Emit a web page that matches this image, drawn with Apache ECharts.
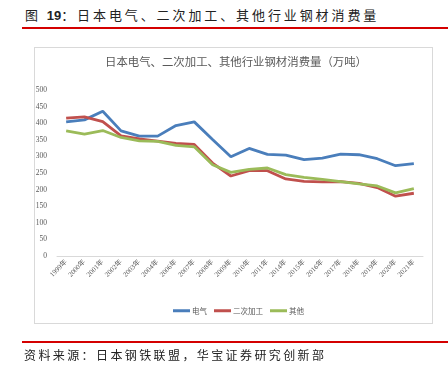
<!DOCTYPE html>
<html>
<head>
<meta charset="utf-8">
<script src="https://cdn.jsdelivr.net/npm/echarts@6/dist/echarts.min.js"></script>
<style>
  body { margin: 0; background: #fff; }
  #wrap { position: relative; width: 448px; height: 379px; overflow: hidden; font-family: "Noto Sans CJK SC", sans-serif; }
  #chart { position: absolute; left: 0; top: 0; width: 448px; height: 379px; }
  .head { position: absolute; left: 25px; top: 5px; font-size: 13px; letter-spacing: 2.9px; color: #222; white-space: nowrap; }
  .head b { font-family: "Liberation Sans", Arial, sans-serif; font-weight: bold; letter-spacing: 0; }
  .redline { position: absolute; left: 22px; width: 426px; height: 2px; background: #d40000; }
  .frame { position: absolute; left: 34px; top: 47px; width: 397px; height: 275px; border: 1px solid #d9d9d9; }
  .src { position: absolute; left: 24px; top: 346px; font-size: 12px; letter-spacing: 2.4px; color: #222; white-space: nowrap; }
</style>
</head>
<body>
<div id="wrap">
  <div class="head">图 <b>19</b>：日本电气、二次加工、其他行业钢材消费量</div>
  <div class="redline" style="top:27px"></div>
  <div class="frame"></div>
  <div id="chart"></div>
  <div class="redline" style="top:341px"></div>
  <div class="src">资料来源：日本钢铁联盟，华宝证券研究创新部</div>
</div>
<script>
// 年份（原图缺 2005、2012、2013）
var years = ['1999年','2000年','2001年','2002年','2003年','2004年','2006年','2007年','2008年','2009年',
             '2010年','2011年','2014年','2015年','2016年','2017年','2018年','2019年','2020年','2021年'];
// 电气
var dianqi = [404, 410, 436, 377, 361, 361, 393, 404, 351, 299, 324, 306, 304, 290, 295, 307, 305, 293, 272, 278];
// 二次加工
var erci = [415, 419, 405, 362, 353, 346, 339, 336, 280, 241, 257, 257, 232, 225, 223, 224, 219, 206, 180, 189];
// 其他
var qita = [377, 367, 378, 357, 347, 345, 333, 329, 275, 252, 261, 265, 245, 237, 231, 224, 217, 211, 190, 203];

var chart = echarts.init(document.getElementById('chart'));
var grey = '#595959';
var serif = '"Liberation Serif", "Noto Sans CJK SC", serif';

chart.setOption({
    animation: false,
    color: ['#4A7EBB', '#C0504D', '#9BBB59'],
    title: {
        text: '日本电气、二次加工、其他行业钢材消费量（万吨）',
        left: 231,
        textAlign: 'center',
        top: 51,
        textStyle: { fontSize: 11.4, fontWeight: 'normal', color: grey, fontFamily: '"Noto Sans CJK SC", serif' }
    },
    grid: { left: 57, right: 25, top: 90, bottom: 123, containLabel: false },
    legend: {
        top: 302,
        left: 168,
        icon: 'rect',
        itemWidth: 17,
        itemHeight: 3,
        itemGap: 7,
        textStyle: { fontSize: 7.5, color: grey, fontFamily: '"Noto Sans CJK SC", serif', padding: [0, 0, 0, -3] },
        data: ['电气', '二次加工', '其他']
    },
    xAxis: {
        type: 'category',
        data: years,
        boundaryGap: true,
        axisLine: { lineStyle: { color: '#d9d9d9', width: 1 } },
        axisTick: { show: false },
        axisLabel: { rotate: 45, fontSize: 7, color: grey, margin: 5, interval: 0, fontFamily: serif }
    },
    yAxis: {
        type: 'value',
        min: 0,
        max: 500,
        interval: 50,
        axisLine: { show: false },
        axisTick: { show: false },
        splitLine: { show: false },
        axisLabel: { fontSize: 7.5, color: grey, margin: 10, fontFamily: serif }
    },
    series: [
        { name: '电气', type: 'line', data: dianqi, symbol: 'none', lineStyle: { width: 2.8 } },
        { name: '二次加工', type: 'line', data: erci, symbol: 'none', lineStyle: { width: 2.8 } },
        { name: '其他', type: 'line', data: qita, symbol: 'none', lineStyle: { width: 2.8 } }
    ]
});
</script>
</body>
</html>
